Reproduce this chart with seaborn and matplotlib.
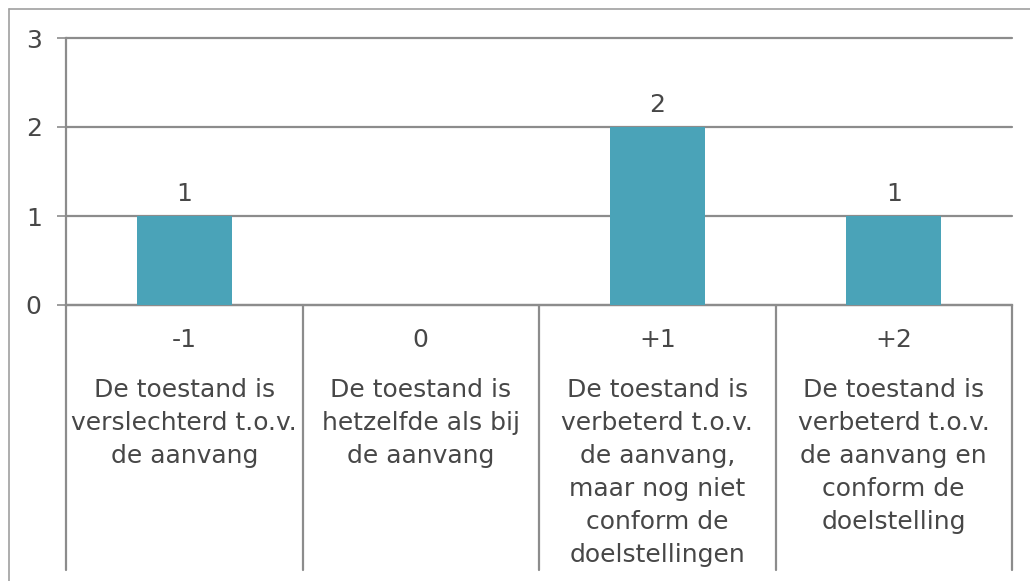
import matplotlib
matplotlib.use("Agg")
import matplotlib.pyplot as plt
from matplotlib.lines import Line2D
import seaborn as sns
import pandas as pd

# Scores and how many items received each score
scores = ["-1", "0", "+1", "+2"]
counts = [1, 0, 2, 1]
descriptions = [
    "De toestand is\nverslechterd t.o.v.\nde aanvang",
    "De toestand is\nhetzelfde als bij\nde aanvang",
    "De toestand is\nverbeterd t.o.v.\nde aanvang,\nmaar nog niet\nconform de\ndoelstellingen",
    "De toestand is\nverbeterd t.o.v.\nde aanvang en\nconform de\ndoelstelling",
]
y_ticks = [0, 1, 2, 3]

sns.set_style("white")
plt.rcParams["font.family"] = ["DejaVu Sans"]

BAR = "#4AA3B8"
GRID = "#8C8C8C"
TEXT = "#474747"
FS = 18

W, H = 1030, 581
fig = plt.figure(figsize=(W / 100, H / 100), dpi=100)
ax = fig.add_axes([66 / W, (H - 305) / H, (1012 - 66) / W, (305 - 38) / H])

df = pd.DataFrame({"score": scores, "count": counts})
sns.barplot(data=df, x="score", y="count", order=scores, color=BAR,
            saturation=1, width=0.4, linewidth=0, ax=ax, zorder=3)

ax.set_xlim(-0.5, len(scores) - 0.5)
ax.set_ylim(0, 3)
ax.set_yticks(y_ticks)
ax.set_yticklabels([str(t) for t in y_ticks], fontsize=FS, color=TEXT)
ax.tick_params(axis="y", direction="out", length=6.5, width=1.2, color=GRID, pad=11, left=True)
ax.tick_params(axis="x", bottom=False, labelbottom=False)
ax.set_xlabel("")
ax.set_ylabel("")

ax.yaxis.grid(True, color=GRID, linewidth=1.6, zorder=0)
for gl in ax.get_ygridlines():
    gl.set_clip_on(False)
ax.set_axisbelow(True)
for side in ("top", "right"):
    ax.spines[side].set_visible(False)
for side in ("left", "bottom"):
    ax.spines[side].set_color(GRID)
    ax.spines[side].set_linewidth(1.6)

# Value labels above non-zero bars
for i, c in enumerate(counts):
    if c:
        ax.annotate(str(c), (i, c), xytext=(0, 7.5), textcoords="offset points",
                    ha="center", va="bottom", fontsize=FS, color=TEXT)

# Category table below the axis
xt = ax.get_xaxis_transform()
span = 305 - 38
depth = (570 - 305) / span
for b in [i - 0.5 for i in range(len(scores) + 1)]:
    ax.plot([b, b], [0, -depth], transform=xt, color=GRID, linewidth=1.6, clip_on=False)
for i, (s, d) in enumerate(zip(scores, descriptions)):
    ax.text(i, -(340 - 305) / span, s, transform=xt, ha="center", va="center",
            fontsize=FS, color=TEXT)
    ax.text(i, -(378 - 305) / span, d, transform=xt, ha="center", va="top",
            fontsize=FS, color=TEXT, linespacing=1.47)

# Outer frame
fig.add_artist(Line2D([9 / W, 1], [(H - 9) / H] * 2, color="#A0A0A0", linewidth=1.2))
fig.add_artist(Line2D([9 / W] * 2, [0, (H - 9) / H], color="#A0A0A0", linewidth=1.2))

fig.savefig("out.png", dpi=100)
